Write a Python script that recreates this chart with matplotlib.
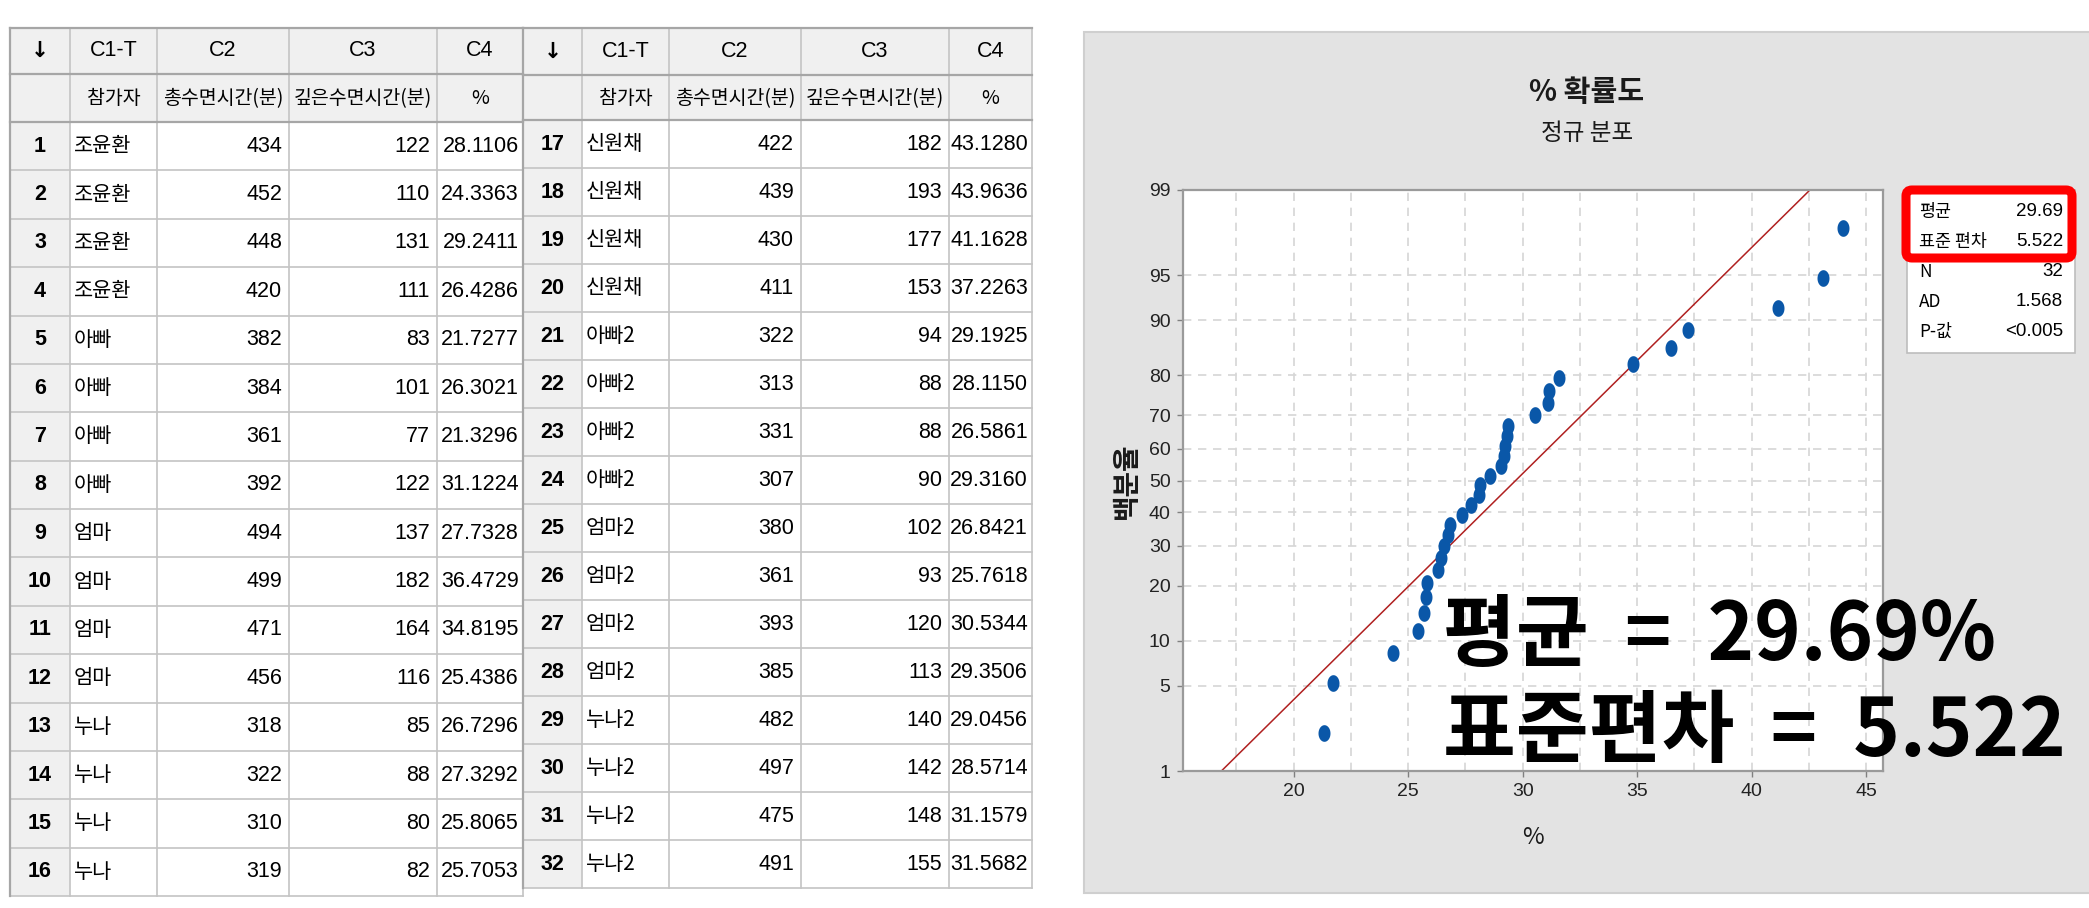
import numpy as np
import matplotlib
matplotlib.use("Agg")
import matplotlib.pyplot as plt
from matplotlib import font_manager as fm
from matplotlib.patches import Rectangle, FancyBboxPatch
from statistics import NormalDist

W, H = 2089, 908

# 워크시트 데이터
participants = ['조윤환', '조윤환', '조윤환', '조윤환', '아빠', '아빠', '아빠', '아빠',
                '엄마', '엄마', '엄마', '엄마', '누나', '누나', '누나', '누나',
                '신원채', '신원채', '신원채', '신원채', '아빠2', '아빠2', '아빠2', '아빠2',
                '엄마2', '엄마2', '엄마2', '엄마2', '누나2', '누나2', '누나2', '누나2']
total_sleep = [434, 452, 448, 420, 382, 384, 361, 392, 494, 499, 471, 456, 318, 322, 310, 319,
               422, 439, 430, 411, 322, 313, 331, 307, 380, 361, 393, 385, 482, 497, 475, 491]
deep_sleep = [122, 110, 131, 111, 83, 101, 77, 122, 137, 182, 164, 116, 85, 88, 80, 82,
              182, 193, 177, 153, 94, 88, 88, 90, 102, 93, 120, 113, 140, 142, 148, 155]
deep_pct = [28.1106, 24.3363, 29.2411, 26.4286, 21.7277, 26.3021, 21.3296, 31.1224,
            27.7328, 36.4729, 34.8195, 25.4386, 26.7296, 27.3292, 25.8065, 25.7053,
            43.1280, 43.9636, 41.1628, 37.2263, 29.1925, 28.1150, 26.5861, 29.3160,
            26.8421, 25.7618, 30.5344, 29.3506, 29.0456, 28.5714, 31.1579, 31.5682]

col_codes = ['↓', 'C1-T', 'C2', 'C3', 'C4']
col_names = ['', '참가자', '총수면시간(분)', '깊은수면시간(분)', '%']

y_ticks = [1, 5, 10, 20, 30, 40, 50, 60, 70, 80, 90, 95, 99]
x_ticks = [20, 25, 30, 35, 40, 45]
x_minor = [17.5, 22.5, 27.5, 32.5, 37.5, 42.5]
ad_stat = '1.568'
p_value = '<0.005'


def has_font(name):
    try:
        fm.findfont(fm.FontProperties(family=name), fallback_to_default=False)
        return True
    except ValueError:
        return False


KR = ['Noto Sans CJK KR', 'DejaVu Sans']
if has_font('Liberation Sans Narrow'):
    NUM = ['Liberation Sans Narrow', 'DejaVu Sans']
    num_size = 17
else:
    NUM = ['Liberation Sans', 'DejaVu Sans']
    num_size = 15.5

fig = plt.figure(figsize=(W / 100, H / 100), dpi=100)
fig.patch.set_facecolor('white')
canvas = fig.add_axes([0, 0, 1, 1], zorder=-1)
canvas.set_xlim(0, W)
canvas.set_ylim(H, 0)
canvas.axis('off')


def box(x0, y0, x1, y1, **kw):
    canvas.add_patch(Rectangle((x0, y0), x1 - x0, y1 - y0, **kw))


def draw_table(edges, ys, start):
    top, h1, h2, bottom = ys
    rh = (bottom - h2) / 16
    box(edges[0], top, edges[-1], h2, facecolor='#f0f0f0', edgecolor='none')
    box(edges[0], h2, edges[1], bottom, facecolor='#f0f0f0', edgecolor='none')
    box(edges[1], h2, edges[-1], bottom, facecolor='white', edgecolor='none')
    for i in range(1, 17):
        y = h2 + i * rh
        canvas.plot([edges[0], edges[-1]], [y, y], color='#c4c4c4', lw=1.2)
    for x in edges:
        canvas.plot([x, x], [top, bottom], color='#c4c4c4', lw=1.2)
    for y in (top, h1, h2):
        canvas.plot([edges[0], edges[-1]], [y, y], color='#a6a6a6', lw=1.6)
    canvas.plot([edges[0], edges[0]], [top, bottom], color='#a6a6a6', lw=1.6)

    for j in range(5):
        cx = (edges[j] + edges[j + 1]) / 2
        canvas.text(cx, (top + h1) / 2, col_codes[j], ha='center', va='center',
                    family=NUM if j else ['DejaVu Sans'], fontsize=num_size,
                    weight='bold' if j == 0 else 'normal')
        canvas.text(cx, (h1 + h2) / 2 + 1, col_names[j], ha='center', va='center',
                    family=KR, fontsize=14, weight='medium')
    for i in range(16):
        k = start + i
        yc = h2 + (i + 0.5) * rh
        canvas.text((edges[0] + edges[1]) / 2, yc, str(k + 1), ha='center', va='center',
                    family=NUM, fontsize=num_size, weight='bold')
        canvas.text(edges[1] + 4, yc, participants[k], ha='left', va='center',
                    family=KR, fontsize=15)
        canvas.text(edges[3] - 7, yc, str(total_sleep[k]), ha='right', va='center',
                    family=NUM, fontsize=num_size)
        canvas.text(edges[4] - 7, yc, str(deep_sleep[k]), ha='right', va='center',
                    family=NUM, fontsize=num_size)
        canvas.text(edges[5] - 4, yc, f'{deep_pct[k]:.4f}', ha='right', va='center',
                    family=NUM, fontsize=num_size)


draw_table([10, 70, 157, 289, 437, 523], (28, 74, 122, 896), 0)
draw_table([523, 582, 669, 801, 949, 1032], (28, 75, 120, 888), 16)

# 그래프 패널 배경
box(1084, 32, W + 5, 893, facecolor='#e3e3e3', edgecolor='#cfcfcf', lw=1.5)
canvas.text(1587, 92, '% 확률도', ha='center', va='center', family=KR,
            fontsize=21, weight='bold', color='#1a1a1a')
canvas.text(1587, 134, '정규 분포', ha='center', va='center', family=KR,
            fontsize=17, color='#1a1a1a')

pct = np.array(deep_pct)
mean = pct.mean()
sd = pct.std(ddof=1)
n = len(pct)

# 범례 상자
box(1907, 190, 2075, 353, facecolor='white', edgecolor='#bdbdbd', lw=1.2)
legend_rows = [('평균', f'{mean:.2f}'), ('표준 편차', f'{sd:.3f}'), ('N', str(n)),
               ('AD', ad_stat), ('P-값', p_value)]
for i, (lab, val) in enumerate(legend_rows):
    y = 212 + 30 * i
    canvas.text(1919, y, lab, ha='left', va='center', family=KR, fontsize=12.5)
    canvas.text(2063, y, val, ha='right', va='center', family=NUM, fontsize=13.5)
canvas.add_patch(FancyBboxPatch((1906, 190), 166, 68,
                                boxstyle='round,pad=0,rounding_size=6',
                                facecolor='none', edgecolor='#ff0000', lw=6.5))

# 정규 확률도
nd = NormalDist()
ppf = np.vectorize(nd.inv_cdf, otypes=[float])
cdf = np.vectorize(nd.cdf, otypes=[float])


def prob_fwd(p):
    p = np.clip(np.asarray(p, dtype=float), 1e-9, 100 - 1e-9)
    return ppf(p / 100)


def prob_inv(z):
    return cdf(np.asarray(z, dtype=float)) * 100


ax = fig.add_axes([1183 / W, 1 - 771 / H, 700 / W, 581 / H])
ax.set_facecolor('white')
ax.set_yscale('function', functions=(prob_fwd, prob_inv))
ax.set_ylim(1, 99)
ax.set_xlim(15.17, 45.73)

ax.set_xticks(x_ticks, labels=[str(v) for v in x_ticks])
ax.set_xticks(x_minor, minor=True)
ax.set_yticks(y_ticks, labels=[str(v) for v in y_ticks])
ax.yaxis.set_minor_locator(matplotlib.ticker.NullLocator())
grid_kw = dict(color='#d6d6d6', linestyle=(0, (5, 4)), lw=1.2)
ax.grid(True, which='both', axis='x', **grid_kw)
ax.grid(True, which='major', axis='y', **grid_kw)
ax.set_axisbelow(True)
ax.tick_params(which='major', length=4, width=1, color='#808080', direction='out',
               labelsize=14, pad=5, labelcolor='#222222')
ax.tick_params(which='minor', length=0)
for lab in ax.get_xticklabels() + ax.get_yticklabels():
    lab.set_family(NUM)
for sp in ax.spines.values():
    sp.set_color('#9a9a9a')
    sp.set_linewidth(1.6)

x_sorted = np.sort(pct)
ranks = (np.arange(1, n + 1) - 0.3) / (n + 0.4) * 100
p_line = np.array([1.0, 99.0])
x_line = mean + sd * prob_fwd(p_line)
ax.plot(x_line, p_line, color='#b02020', lw=1.1, zorder=2)

t = np.linspace(0, 2 * np.pi, 40)
ellipse = np.column_stack([0.72 * np.cos(t), np.sin(t)])
ax.plot(x_sorted, ranks, ls='none', marker=ellipse, ms=12, color='#0a57a8',
        mec='none', zorder=3)

ax.set_xlabel('%', family=KR, fontsize=17, color='#1a1a1a')
ax.xaxis.set_label_coords(0.5, (771 - 838) / 581)
ax.xaxis.label.set_va('center')
ax.set_ylabel('백분율', family=KR, fontsize=20, weight='bold', color='#1a1a1a')
ax.yaxis.set_label_coords((1127 - 1183) / 700, 0.5)
ax.yaxis.label.set_va('center')

# 큰 주석 텍스트
big_kw = dict(family=KR, fontsize=57, weight='bold', color='black',
              ha='left', va='baseline', transform=canvas.transData)
fig.text(1443, 660, f'평균  =  {mean:.2f}%', **big_kw)
fig.text(1443, 756, f'표준편차  =  {sd:.3f}', **big_kw)

fig.savefig('out.png', dpi=100, facecolor='white')
